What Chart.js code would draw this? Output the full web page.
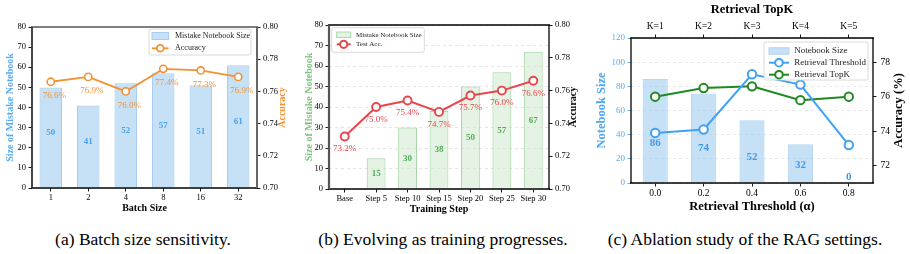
<!DOCTYPE html>
<html>
<head>
<meta charset="utf-8">
<script src="https://cdn.jsdelivr.net/npm/chart.js@4.4.1/dist/chart.umd.min.js"></script>
<style>
  body { margin: 0; background: #fff; width: 910px; height: 254px; position: relative; overflow: hidden; font-family: 'Liberation Serif', serif; }
  .box { position: absolute; top: 0; height: 220px; }
  canvas { display: block; }
  .cap { position: absolute; top: 229px; width: 320px; text-align: center; font-size: 17.5px; line-height: 20px; color: #000; white-space: nowrap; }
</style>
</head>
<body>
<div class="box" style="left:0;width:300px"><canvas id="chartA" width="300" height="220"></canvas></div>
<div class="box" style="left:300px;width:290px"><canvas id="chartB" width="290" height="220"></canvas></div>
<div class="box" style="left:590px;width:320px"><canvas id="chartC" width="320" height="220"></canvas></div>
<div class="cap" style="left:-17px">(a) Batch size sensitivity.</div>
<div class="cap" style="left:283px">(b) Evolving as training progresses.</div>
<div class="cap" style="left:585px">(c) Ablation study of the RAG settings.</div>
<script>
// (a) batch size
const batchSizes = ['1', '2', '4', '8', '16', '32']
const batchNotebook = [50, 41, 52, 57, 51, 61]
const batchAccuracy = [0.766, 0.769, 0.760, 0.774, 0.773, 0.769]
const sizeTicksA = [0, 10, 20, 30, 40, 50, 60, 70, 80]
const accTicksA = [0.70, 0.72, 0.74, 0.76, 0.78, 0.80]

// (b) training steps
const trainSteps = ['Base', 'Step 5', 'Step 10', 'Step 15', 'Step 20', 'Step 25', 'Step 30']
const stepNotebook = [null, 15, 30, 38, 50, 57, 67]
const stepAccuracy = [0.732, 0.750, 0.754, 0.747, 0.757, 0.760, 0.766]
const sizeTicksB = [0, 10, 20, 30, 40, 50, 60, 70, 80]
const accTicksB = [0.70, 0.72, 0.74, 0.76, 0.78, 0.80]

// (c) RAG settings
const thresholds = ['0.0', '0.2', '0.4', '0.6', '0.8']
const topKLabels = ['K=1', 'K=2', 'K=3', 'K=4', 'K=5']
const thresholdNotebook = [86, 74, 52, 32, 0]
const thresholdAccuracy = [73.9, 74.1, 77.3, 76.7, 73.2]
const topKAccuracy = [76.0, 76.5, 76.6, 75.8, 76.0]
const sizeTicksC = [0, 20, 40, 60, 80, 100, 120]
const accTicksC = [72, 74, 76, 78]

const SERIF = "'Liberation Serif', 'Times New Roman', serif"
const BLUE_FILL = 'rgba(160, 203, 240, 0.6)'
const BLUE_EDGE = '#a8cdf0'
const BLUE_TEXT = '#4aa3ee'
const ORANGE = '#f39233'
const GREEN_FILL = 'rgba(205, 233, 205, 0.55)'
const GREEN_EDGE = '#aad7aa'
const GREEN_TEXT = '#4fae55'
const RED = '#e8464d'
const LINE_BLUE = '#3fa2f5'
const LINE_GREEN = '#1f8a1f'

const font = (size, bold) => ({ family: SERIF, size: size, weight: bold ? 'bold' : 'normal' })
const fixedTicks = values => scale => { scale.ticks = values.map(v => ({ value: v })) }

// shared look of a matplotlib style axis
function axis (extra) {
  const base = {
    border: { display: false },
    grid: { drawOnChartArea: false, color: '#000', tickColor: '#000', tickLength: 3.5, tickWidth: 0.9 },
    ticks: { font: font(8.5), color: '#000', padding: 2.5, maxRotation: 0, minRotation: 0, autoSkip: false }
  }
  const out = Object.assign({}, base, extra)
  out.grid = Object.assign({}, base.grid, extra.grid || {})
  out.ticks = Object.assign({}, base.ticks, extra.ticks || {})
  return out
}

// frame, value labels, rotated right title and legend box
function decorations (cfg) {
  return {
    id: 'decor' + cfg.name,
    afterDatasetsDraw (chart) {
      const ctx = chart.ctx
      ctx.save()
      if (cfg.barLabels) {
        const b = cfg.barLabels
        const meta = chart.getDatasetMeta(b.dataset)
        const yScale = chart.scales[meta.yAxisID]
        ctx.font = `bold ${b.size}px ${SERIF}`
        ctx.fillStyle = b.color
        ctx.textAlign = 'center'
        ctx.textBaseline = 'middle'
        meta.data.forEach((bar, i) => {
          const v = chart.data.datasets[b.dataset].data[i]
          if (v === null) return
          ctx.fillText(String(v), bar.x, yScale.getPixelForValue(b.at(v)))
        })
      }
      if (cfg.pointLabels) {
        const p = cfg.pointLabels
        const meta = chart.getDatasetMeta(p.dataset)
        ctx.font = `${p.size}px ${SERIF}`
        ctx.fillStyle = p.color
        ctx.textAlign = 'center'
        ctx.textBaseline = 'middle'
        meta.data.forEach((pt, i) => {
          const v = chart.data.datasets[p.dataset].data[i]
          ctx.fillText((v * 100).toFixed(1) + '%', pt.x + p.dx, pt.y + p.dy)
        })
      }
      ctx.restore()
    },
    afterDraw (chart) {
      const ctx = chart.ctx
      const { left, right, top, bottom } = chart.chartArea
      ctx.save()
      // spines
      const side = (s, x1, y1, x2, y2) => {
        ctx.strokeStyle = s[0]
        ctx.lineWidth = s[1]
        ctx.beginPath()
        ctx.moveTo(x1, y1)
        ctx.lineTo(x2, y2)
        ctx.stroke()
      }
      side(cfg.spines.top, left - 1, top, right + 1, top)
      side(cfg.spines.bottom, left - 1, bottom, right + 1, bottom)
      side(cfg.spines.left, left, top, left, bottom)
      side(cfg.spines.right, right, top, right, bottom)

      // right axis title reads bottom to top like matplotlib
      const t = cfg.rightTitle
      ctx.translate(t.x, (top + bottom) / 2)
      ctx.rotate(-Math.PI / 2)
      ctx.font = `bold ${t.size}px ${SERIF}`
      ctx.fillStyle = t.color
      ctx.textAlign = 'center'
      ctx.textBaseline = 'middle'
      ctx.fillText(t.text, 0, 0)
      ctx.setTransform(1, 0, 0, 1, 0, 0)

      // legend
      const lg = cfg.legend
      ctx.fillStyle = 'rgba(255,255,255,0.85)'
      ctx.strokeStyle = '#d0d0d0'
      ctx.lineWidth = 0.8
      ctx.beginPath()
      ctx.roundRect(lg.x, lg.y, lg.w, lg.h, 2)
      ctx.fill()
      ctx.stroke()
      ctx.font = `${lg.size}px ${SERIF}`
      ctx.textAlign = 'left'
      ctx.textBaseline = 'middle'
      lg.items.forEach(it => {
        if (it.type === 'bar') {
          ctx.fillStyle = it.fill
          ctx.strokeStyle = it.stroke
          ctx.lineWidth = 1
          ctx.fillRect(lg.sx, it.y - lg.sh / 2, lg.sw, lg.sh)
          ctx.strokeRect(lg.sx, it.y - lg.sh / 2, lg.sw, lg.sh)
        } else {
          ctx.strokeStyle = it.stroke
          ctx.lineWidth = it.lw
          ctx.beginPath()
          ctx.moveTo(lg.sx, it.y)
          ctx.lineTo(lg.sx + lg.sw, it.y)
          ctx.stroke()
          ctx.fillStyle = '#fff'
          ctx.beginPath()
          ctx.arc(lg.sx + lg.sw / 2, it.y, it.r, 0, Math.PI * 2)
          ctx.fill()
          ctx.stroke()
        }
        ctx.fillStyle = '#222'
        ctx.fillText(it.label, lg.tx, it.y)
      })
      ctx.restore()
    }
  }
}

const common = { responsive: false, maintainAspectRatio: false, animation: false, devicePixelRatio: 1 }

// ---------- (a) ----------
new Chart(document.getElementById('chartA'), {
  data: {
    labels: batchSizes,
    datasets: [
      {
        type: 'line', label: 'Accuracy', data: batchAccuracy, yAxisID: 'y1', order: 0,
        borderColor: ORANGE, borderWidth: 1.8, pointRadius: 3.6, pointBorderWidth: 1.6,
        pointBackgroundColor: '#fff', pointBorderColor: ORANGE
      },
      {
        type: 'bar', label: 'Mistake Notebook Size', data: batchNotebook, yAxisID: 'y', order: 1,
        backgroundColor: BLUE_FILL, borderColor: BLUE_EDGE, borderWidth: 1,
        barPercentage: 0.6, categoryPercentage: 1
      }
    ]
  },
  options: Object.assign({}, common, {
    layout: { padding: { top: 27, left: 0, right: 0, bottom: 0 } },
    plugins: { legend: { display: false }, tooltip: { enabled: false } },
    scales: {
      x: axis({
        offset: true,
        grid: { offset: false },
        ticks: { padding: 1 },
        title: { display: true, text: 'Batch Size', font: font(10, true), color: '#000', padding: { top: 0, bottom: 5.5 } },
        afterFit: s => { s.height = 32 }
      }),
      y: axis({
        position: 'left', min: 0, max: 80,
        afterBuildTicks: fixedTicks(sizeTicksA),
        title: { display: true, text: 'Size of Mistake Notebook', font: font(10, true), color: '#5aaaf0', padding: { top: 4, bottom: 0 } },
        afterFit: s => { s.width = 32 }
      }),
      y1: axis({
        position: 'right', min: 0.70, max: 0.80,
        afterBuildTicks: fixedTicks(accTicksA),
        ticks: { callback: v => v.toFixed(2) },
        afterFit: s => { s.width = 43 }
      })
    }
  }),
  plugins: [decorations({
    name: 'A',
    spines: { top: ['#000', 1.2], bottom: ['#000', 1.6], left: ['#333', 1.8], right: ['#666', 2] },
    barLabels: { dataset: 1, size: 9, color: BLUE_TEXT, at: v => v / 2 + 2.5 },
    pointLabels: { dataset: 0, size: 9, color: ORANGE, dx: 3.5, dy: 14 },
    rightTitle: { text: 'Accuracy', x: 282.7, size: 10, color: ORANGE },
    legend: {
      x: 149, y: 29, w: 102, h: 26, size: 8, sx: 152, sw: 16.5, sh: 7, tx: 175,
      items: [
        { type: 'bar', label: 'Mistake Notebook Size', fill: BLUE_FILL, stroke: BLUE_EDGE, y: 36 },
        { type: 'line', label: 'Accuracy', stroke: ORANGE, lw: 1.8, r: 3.4, y: 48.3 }
      ]
    }
  })]
})

// ---------- (b) ----------
new Chart(document.getElementById('chartB'), {
  data: {
    labels: trainSteps,
    datasets: [
      {
        type: 'line', label: 'Test Acc.', data: stepAccuracy, yAxisID: 'y1', order: 0,
        borderColor: RED, borderWidth: 2, pointRadius: 4, pointBorderWidth: 1.9,
        pointBackgroundColor: '#fff', pointBorderColor: RED
      },
      {
        type: 'bar', label: 'Mistake Notebook Size', data: stepNotebook, yAxisID: 'y', order: 1,
        backgroundColor: GREEN_FILL, borderColor: GREEN_EDGE, borderWidth: 1,
        barPercentage: 0.6, categoryPercentage: 1
      }
    ]
  },
  options: Object.assign({}, common, {
    layout: { padding: { top: 25, left: 0, right: 0, bottom: 0 } },
    plugins: { legend: { display: false }, tooltip: { enabled: false } },
    scales: {
      x: axis({
        offset: true,
        grid: { offset: false },
        ticks: { padding: 1 },
        title: { display: true, text: 'Training Step', font: font(10, true), color: '#000', padding: { top: 0, bottom: 5 } },
        afterFit: s => { s.height = 31 }
      }),
      y: axis({
        position: 'left', min: 0, max: 80,
        afterBuildTicks: fixedTicks(sizeTicksB),
        grid: { drawOnChartArea: true, color: '#dedede', lineWidth: 0.8 },
        border: { display: false, dash: [3, 3] },
        title: { display: true, text: 'Size of Mistake Notebook', font: font(10, true), color: '#7cc47f', padding: { top: 3.3, bottom: 0 } },
        afterFit: s => { s.width = 29 }
      }),
      y1: axis({
        position: 'right', min: 0.70, max: 0.80,
        afterBuildTicks: fixedTicks(accTicksB),
        ticks: { callback: v => v.toFixed(2) },
        afterFit: s => { s.width = 41 }
      })
    }
  }),
  plugins: [decorations({
    name: 'B',
    spines: { top: ['#000', 1.3], bottom: ['#000', 1.7], left: ['#555', 2.2], right: ['#000', 1.3] },
    barLabels: { dataset: 1, size: 9, color: GREEN_TEXT, at: v => v / 2 },
    pointLabels: { dataset: 0, size: 9, color: RED, dx: 0, dy: 12.5 },
    rightTitle: { text: 'Accuracy', x: 273.3, size: 10, color: '#000' },
    legend: {
      x: 31.7, y: 27.7, w: 92.6, h: 24.6, size: 7, sx: 36.7, sw: 14, sh: 5.5, tx: 56,
      items: [
        { type: 'bar', label: 'Mistake Notebook Size', fill: GREEN_FILL, stroke: GREEN_EDGE, y: 34.8 },
        { type: 'line', label: 'Test Acc.', stroke: RED, lw: 2, r: 3.6, y: 44.3 }
      ]
    }
  })]
})

// ---------- (c) ----------
new Chart(document.getElementById('chartC'), {
  data: {
    labels: thresholds,
    datasets: [
      {
        type: 'line', label: 'Retrieval Threshold', data: thresholdAccuracy, yAxisID: 'y1', order: 0,
        borderColor: LINE_BLUE, borderWidth: 2, pointRadius: 4.2, pointBorderWidth: 2,
        pointBackgroundColor: '#fff', pointBorderColor: LINE_BLUE
      },
      {
        type: 'line', label: 'Retrieval TopK', data: topKAccuracy, yAxisID: 'y1', order: 0,
        borderColor: LINE_GREEN, borderWidth: 2, pointRadius: 4.2, pointBorderWidth: 2,
        pointBackgroundColor: '#fff', pointBorderColor: LINE_GREEN
      },
      {
        type: 'bar', label: 'Notebook Size', data: thresholdNotebook, yAxisID: 'y', order: 1,
        backgroundColor: BLUE_FILL, borderColor: '#b5d6f3', borderWidth: 1,
        barPercentage: 0.52, categoryPercentage: 1
      }
    ]
  },
  options: Object.assign({}, common, {
    layout: { padding: { top: 0, left: 0, right: 0, bottom: 0 } },
    plugins: { legend: { display: false }, tooltip: { enabled: false } },
    scales: {
      x: axis({
        offset: true,
        grid: { offset: false },
        ticks: { font: font(9.5), padding: 1.5 },
        title: { display: true, text: 'Retrieval Threshold (α)', font: font(12.5, true), color: '#000', padding: { top: 0, bottom: 5.5 } },
        afterFit: s => { s.height = 37 }
      }),
      x2: axis({
        type: 'category', position: 'top', labels: topKLabels, offset: true,
        grid: { offset: false },
        ticks: { font: font(9.5), padding: 2 },
        title: { display: true, text: 'Retrieval TopK', font: font(12.5, true), color: '#000', padding: { top: 2.5, bottom: 0 } },
        afterFit: s => { s.height = 38 }
      }),
      y: axis({
        position: 'left', min: 0, max: 120,
        afterBuildTicks: fixedTicks(sizeTicksC),
        grid: { drawOnChartArea: true, color: '#e2e2e2', lineWidth: 0.8, tickColor: '#5aabf2' },
        border: { display: false, dash: [3, 3] },
        ticks: { font: font(9), color: '#5aabf2' },
        title: { display: true, text: 'Notebook Size', font: font(12.5, true), color: '#4ca8f4', padding: { top: 4.2, bottom: 0 } },
        afterFit: s => { s.width = 41 }
      }),
      y1: axis({
        position: 'right', min: 71, max: 79.4,
        afterBuildTicks: fixedTicks(accTicksC),
        ticks: { font: font(9.5), padding: 4 },
        afterFit: s => { s.width = 37 }
      })
    }
  }),
  plugins: [decorations({
    name: 'C',
    spines: { top: ['#000', 1.3], bottom: ['#000', 1.3], left: ['#000', 1.3], right: ['#000', 1.3] },
    barLabels: { dataset: 2, size: 11, color: '#3d9be9', at: v => v * 0.326 + 4.7 },
    rightTitle: { text: 'Accuracy (%)', x: 308.3, size: 12.5, color: '#000' },
    legend: {
      x: 174, y: 42, w: 104, h: 38, size: 9, sx: 179, sw: 20, sh: 6.5, tx: 204.3,
      items: [
        { type: 'bar', label: 'Notebook Size', fill: BLUE_FILL, stroke: '#b5d6f3', y: 51 },
        { type: 'line', label: 'Retrieval Threshold', stroke: LINE_BLUE, lw: 2, r: 3.8, y: 62.7 },
        { type: 'line', label: 'Retrieval TopK', stroke: LINE_GREEN, lw: 2, r: 3.8, y: 74.7 }
      ]
    }
  })]
})
</script>
</body>
</html>
